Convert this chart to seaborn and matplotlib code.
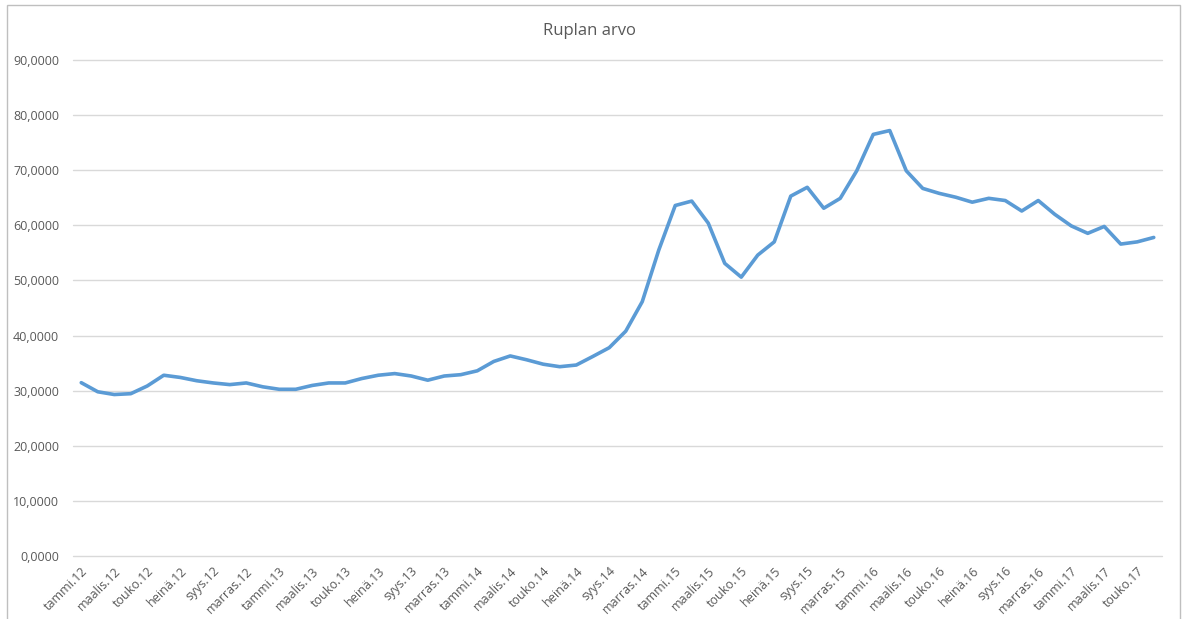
import pandas as pd
import seaborn as sns
import matplotlib.pyplot as plt
from matplotlib.patches import Rectangle
from matplotlib.ticker import FuncFormatter

# data (monthly, tammi.12 - kesä.17)
months = ["tammi", "helmi", "maalis", "huhti", "touko", "kesä",
          "heinä", "elo", "syys", "loka", "marras", "joulu"]
years = [12, 13, 14, 15, 16, 17]
labels = [f"{m}.{y}" for y in years for m in months][:66]

values = [31.45, 29.8, 29.3, 29.45, 30.85, 32.8, 32.4, 31.8, 31.4, 31.1, 31.4, 30.7,
          30.25, 30.25, 30.95, 31.4, 31.4, 32.2, 32.8, 33.1, 32.66, 31.9, 32.66, 32.9,
          33.6, 35.3, 36.3, 35.6, 34.8, 34.35, 34.65, 36.2, 37.8, 40.8, 46.15, 55.5,
          63.6, 64.4, 60.4, 53.1, 50.6, 54.6, 57.0, 65.3, 66.9, 63.1, 64.9, 69.9,
          76.5, 77.2, 69.9, 66.7, 65.8, 65.1, 64.2, 64.9, 64.5, 62.6, 64.5, 62.0,
          59.9, 58.55, 59.8, 56.6, 57.0, 57.8]

df = pd.DataFrame({"kk": range(len(values)), "arvo": values})

sns.set_theme(style="white")
plt.rcParams['font.family'] = ['Open Sans', 'DejaVu Sans']
txt = "#595959"

fig = plt.figure(figsize=(11.86, 6.19), dpi=100)
ax = fig.add_axes([73 / 1186, 1 - 556 / 619, (1162 - 73) / 1186, (556 - 60) / 619])

sns.lineplot(data=df, x="kk", y="arvo", ax=ax, color="#5B9BD5", linewidth=2.6)

ax.set_xlim(-0.5, len(values) - 0.5)
ax.set_ylim(0, 90)
ax.set_yticks(range(0, 91, 10))
ax.yaxis.set_major_formatter(FuncFormatter(lambda v, p: f"{v:.4f}".replace(".", ",")))
ax.set_xticks(range(0, len(values), 2))
ax.set_xticklabels(labels[::2], rotation=45, ha="right", rotation_mode="anchor")
ax.tick_params(axis="x", labelsize=9, colors=txt, length=0, pad=6)
ax.tick_params(axis="y", labelsize=9, colors=txt, length=0, pad=10)
ax.yaxis.grid(True, color="#D9D9D9", linewidth=1)
for g in ax.get_ygridlines():
    g.set_clip_on(False)
ax.set_axisbelow(True)
for s in ax.spines.values():
    s.set_visible(False)
ax.set(xlabel="", ylabel="")

fig.text(0.497, 1 - 31 / 619, "Ruplan arvo", ha="center", va="center", fontsize=12, color=txt)

# chart area border
fig.patches.append(Rectangle((7 / 1186, -0.02), (1180 - 7) / 1186, 1 - 5 / 619 + 0.02,
                             transform=fig.transFigure, fill=False, edgecolor="#BFBFBF", linewidth=1))

fig.savefig("out.png", dpi=100)
